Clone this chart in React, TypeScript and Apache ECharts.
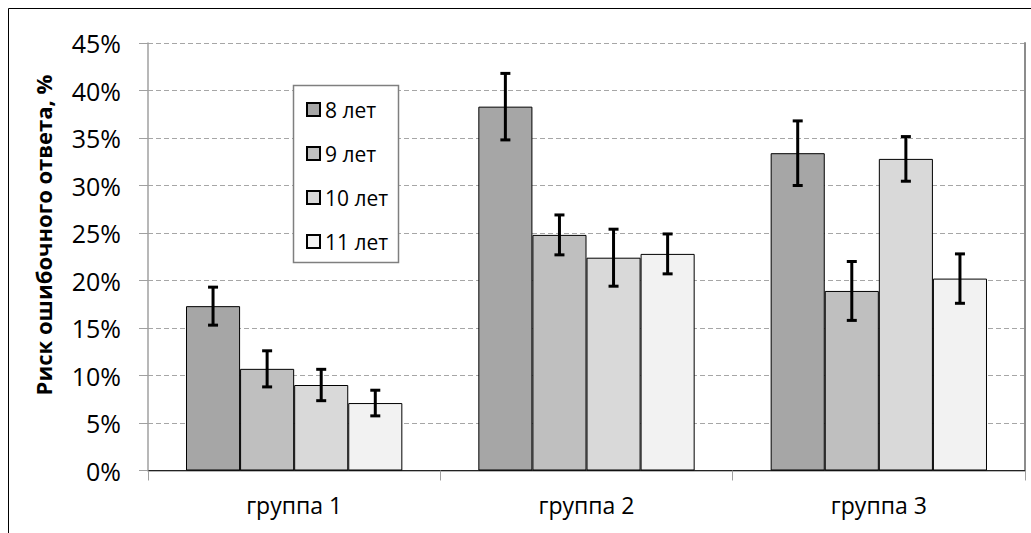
import React, { useEffect, useRef } from "react";
import * as echarts from "echarts";

const categories = ["группа 1", "группа 2", "группа 3"];
const seriesNames = ["8 лет", "9 лет", "10 лет", "11 лет"];
const age8 = [17.3, 38.3, 33.4];
const age9 = [10.7, 24.8, 18.9];
const age10 = [9.0, 22.4, 32.8];
const age11 = [7.1, 22.8, 20.2];
const err8 = [2.0, 3.5, 3.4];
const err9 = [1.9, 2.1, 3.1];
const err10 = [1.65, 3.0, 2.35];
const err11 = [1.35, 2.1, 2.6];
const yTicks = [0, 5, 10, 15, 20, 25, 30, 35, 40, 45];

const values = [age8, age9, age10, age11];
const errors = [err8, err9, err10, err11];
const colors = ["#a6a6a6", "#bfbfbf", "#d9d9d9", "#f2f2f2"];
const CAT_GAP = 0.26;
const FONT = "'Open Sans', 'Noto Sans', sans-serif";

export default function App() {
  const ref = useRef<HTMLDivElement>(null);
  useEffect(() => {
    if (!ref.current) return;
    const chart = echarts.init(ref.current, null, { renderer: "svg" });
    const n = values.length;
    const barSeries = values.map((vals, j) => ({
      name: seriesNames[j],
      type: "bar",
      xAxisIndex: 0,
      yAxisIndex: 0,
      data: vals,
      barGap: "0%",
      barCategoryGap: CAT_GAP * 100 + "%",
      itemStyle: { color: colors[j], borderColor: "#000", borderWidth: 1 },
      z: 2,
    }));
    const errSeries = values.map((vals, j) => ({
      type: "custom",
      xAxisIndex: 0,
      yAxisIndex: 0,
      z: 4,
      silent: true,
      encode: { x: 0, y: 1 },
      data: vals.map((v, i) => [i, v, errors[j][i]]),
      renderItem: (params: any, api: any) => {
        const i = api.value(0);
        const v = api.value(1);
        const e = api.value(2);
        const c = api.coord([i, v]);
        const band = api.size([1, 0])[0];
        const total = band * (1 - CAT_GAP);
        const bw = total / n;
        const x = c[0] - total / 2 + bw * (j + 0.5);
        const top = api.coord([i, v + e])[1];
        const bot = api.coord([i, v - e])[1];
        const cap = 5;
        const style = { stroke: "#000", lineWidth: 3 };
        return {
          type: "group",
          children: [
            { type: "line", shape: { x1: x, y1: top, x2: x, y2: bot }, style },
            { type: "line", shape: { x1: x - cap, y1: top, x2: x + cap, y2: top }, style },
            { type: "line", shape: { x1: x - cap, y1: bot, x2: x + cap, y2: bot }, style },
          ],
        };
      },
    }));

    chart.setOption({
      animation: false,
      backgroundColor: "#fff",
      textStyle: { fontFamily: FONT },
      grid: { left: 148, right: 6, top: 43, bottom: 62.5, containLabel: false },
      legend: {
        data: seriesNames,
        orient: "vertical",
        left: 306,
        top: 99,
        padding: 0,
        itemGap: 23,
        itemWidth: 13,
        itemHeight: 13,
        icon: "rect",
        z: 10,
        textStyle: { fontSize: 21, color: "#000", fontFamily: FONT },
      },
      graphic: [
        {
          type: "rect",
          z: 0,
          shape: { x: 8.5, y: 8.5, width: 1100, height: 600 },
          style: { fill: "none", stroke: "#000", lineWidth: 1 },
        },
        {
          type: "rect",
          z: 5,
          shape: { x: 293.5, y: 85.5, width: 105, height: 177 },
          style: { fill: "#fff", stroke: "#7f7f7f", lineWidth: 1.5 },
        },
        {
          type: "text",
          x: 43,
          y: 235,
          rotation: Math.PI / 2,
          style: {
            text: "Риск ошибочного ответа, %",
            fontSize: 22,
            fontWeight: "bold",
            fontFamily: FONT,
            fill: "#000",
            align: "center",
            verticalAlign: "middle",
          },
        },
      ],
      xAxis: [
        {
          type: "category",
          data: categories,
          position: "bottom",
          axisLine: { lineStyle: { color: "#a0a0a0", width: 1.5 } },
          axisTick: { show: true, alignWithLabel: false, length: 10, lineStyle: { color: "#a0a0a0" } },
          axisLabel: { fontSize: 23, color: "#000", margin: 23, fontFamily: FONT },
          splitLine: { show: false },
        },
        {
          type: "category",
          data: categories,
          position: "top",
          axisLine: { lineStyle: { color: "#222", width: 1 } },
          axisTick: { show: false },
          axisLabel: { show: false },
          splitLine: { show: false },
        },
      ],
      yAxis: [
        {
          type: "value",
          min: yTicks[0],
          max: yTicks[yTicks.length - 1],
          interval: yTicks[1] - yTicks[0],
          axisLine: { show: true, lineStyle: { color: "#a0a0a0", width: 1.5 } },
          axisTick: { show: true, length: 9, lineStyle: { color: "#a0a0a0" } },
          axisLabel: { formatter: "{value}%", fontSize: 25, color: "#000", margin: 27, fontFamily: FONT },
          splitLine: { show: true, lineStyle: { color: "#a6a6a6", type: [5, 3], width: 1 } },
        },
        {
          type: "value",
          position: "right",
          min: yTicks[0],
          max: yTicks[yTicks.length - 1],
          interval: yTicks[1] - yTicks[0],
          axisLine: { show: true, lineStyle: { color: "#8c8c8c", width: 2 } },
          axisTick: { show: false },
          axisLabel: { show: false },
          splitLine: { show: false },
        },
      ],
      series: [...barSeries, ...errSeries],
    });
    return () => chart.dispose();
  }, []);
  return (
    <div
      ref={ref}
      style={{ position: "fixed", left: 0, top: 0, width: 1031, height: 533 }}
    />
  );
}
